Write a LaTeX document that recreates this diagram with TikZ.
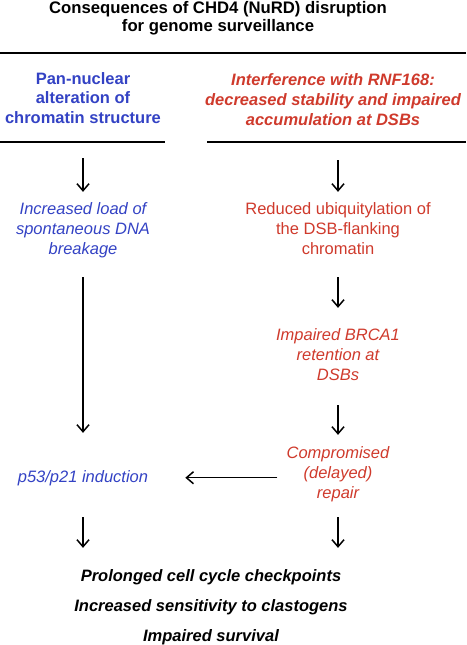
\documentclass[tikz,border=0pt]{standalone}
\usepackage{fontspec}
\setmainfont{Liberation Sans}
\usepackage{xcolor}
\usetikzlibrary{arrows.meta}
\definecolor{nucblue}{HTML}{3342C4}
\definecolor{rnfred}{HTML}{CF3A2C}

\begin{document}
\begin{tikzpicture}[
    x=1pt, y=-1pt,
    txt/.style={anchor=base, inner sep=0pt, align=center},
    head/.style={txt, font=\fontsize{16.5}{19.5}\selectfont\bfseries},
    blueit/.style={txt, text=nucblue, font=\fontsize{16.5}{20}\selectfont\itshape},
    redup/.style={txt, text=rnfred, font=\fontsize{16.5}{20}\selectfont},
    redit/.style={txt, text=rnfred, font=\fontsize{16.5}{20}\selectfont\itshape},
    rule/.style={line width=2.6pt},
    arrow/.style={-{Straight Barb[length=7pt,width=12pt]}, line width=1.5pt}
  ]

    \useasboundingbox (0,0) rectangle (466,645);

    % base anchor = baseline of the last line
    \node[txt, font=\fontsize{16.7}{18.4}\selectfont\bfseries] (title) at (218,31.7)
      {Consequences of CHD4 (NuRD) disruption\\for genome surveillance};

    \draw[rule] (0,53) -- (466,53);
    \node[head, text=nucblue] (panuc) at (83,123) {Pan-nuclear\\alteration of\\chromatin structure};
    \node[head, text=rnfred, font=\fontsize{16.5}{20}\selectfont\bfseries\itshape] (rnf) at (333,125)
      {Interference with RNF168:\\decreased stability and impaired\\accumulation at DSBs};
    \draw[rule] (0,142) -- (165,142);
    \draw[rule] (207,142) -- (466,142);

    \node[blueit] (load) at (83,254) {Increased load of\\spontaneous DNA\\breakage};
    \node[redup] (ubiq) at (338,254) {Reduced ubiquitylation of\\the DSB-flanking\\chromatin};
    \node[redit] (brca) at (338,380) {Impaired BRCA1\\retention at\\DSBs};
    \node[redit] (repair) at (338,498) {Compromised\\(delayed)\\repair};
    \node[blueit] (p53) at (83,482) {p53/p21 induction};

    \node[txt, font=\fontsize{16.5}{30}\selectfont\bfseries\itshape] (outcome) at (211,641)
      {Prolonged cell cycle checkpoints\\Increased sensitivity to clastogens\\Impaired survival};

    \draw[arrow, shorten <=35pt, shorten >=10pt] (panuc.south) -- (load.north);
    \draw[arrow, shorten <=35pt, shorten >=10pt] (rnf.south -| ubiq.north) -- (ubiq.north);
    \draw[arrow, shorten <=19.5pt, shorten >=37pt] (load.south) -- (p53.north);
    \draw[arrow, shorten <=23pt, shorten >=20pt] (ubiq.south) -- (brca.north);
    \draw[arrow, shorten <=25pt, shorten >=11pt] (brca.south) -- (repair.north);
    \draw[arrow, shorten <=9pt, shorten >=37pt] (p53.east -| repair.west) -- (p53.east);
    \draw[arrow, shorten <=31.5pt, shorten >=21pt] (p53.south) -- (p53.south |- outcome.north);
    \draw[arrow, shorten <=15.5pt, shorten >=21pt] (repair.south) -- (repair.south |- outcome.north);

  \end{tikzpicture}
\end{document}
